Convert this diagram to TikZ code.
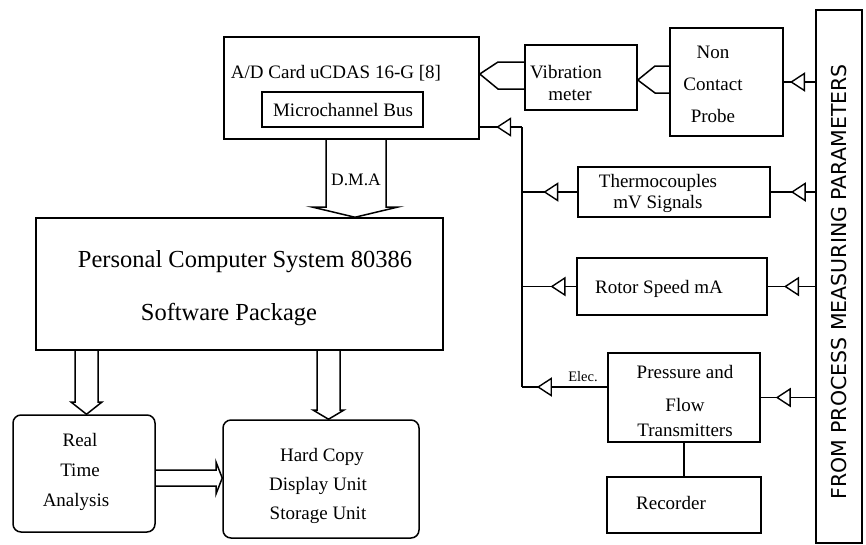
\documentclass[tikz,border=0pt]{standalone}
\usepackage{fontspec}
\setmainfont{Liberation Serif}
\newfontfamily\sansf{DejaVu Sans}
\usetikzlibrary{arrows.meta,decorations.markings,calc}
\tikzset{
  box/.style={draw,line width=1.5pt,rectangle,inner sep=0pt},
  rbox/.style={box,rounded corners=8pt},
  txt/.style={inner sep=0pt,font=\fontsize{19}{21}\selectfont},
  bigtxt/.style={inner sep=0pt,font=\fontsize{24.5}{27}\selectfont},
  conn/.style={line width=1.5pt},
  blockarrow/.style={line width=1.5pt,line join=miter},
  triat/.style={conn,postaction={decorate},decoration={markings,
     mark=at position #1 with {\draw[fill=white,line width=1.4pt,line join=miter] (0,0) -- (-13,-8.5) -- (-13,8.5) -- cycle;}}}
}
\begin{document}
\begin{tikzpicture}[x=1pt,y=-1pt]
\useasboundingbox (0,0) rectangle (866,544);
% boxes
\node[box,minimum width=255pt,minimum height=102pt] (adc) at (351.5,88) {};
\node[box,minimum width=161pt,minimum height=35pt] (mcb) at (342.5,109.5) {};
\node[box,minimum width=112pt,minimum height=65pt] (vib) at (581,77.5) {};
\node[box,minimum width=113pt,minimum height=108pt] (probe) at (726.5,82) {};
\node[box,minimum width=192pt,minimum height=50pt] (thermo) at (674,192) {};
\node[box,minimum width=190pt,minimum height=57pt] (rotor) at (672,286.5) {};
\node[box,minimum width=152pt,minimum height=89pt] (press) at (684,397.5) {};
\node[box,minimum width=154pt,minimum height=56pt] (rec) at (684,505) {};
\node[box,minimum width=46pt,minimum height=533pt] (tall) at (839,276.5) {};
\node[box,minimum width=407pt,minimum height=132pt] (pc) at (239.5,284) {};
\node[rbox,minimum width=142pt,minimum height=117pt] (rt) at (84,473.5) {};
\node[rbox,minimum width=196pt,minimum height=118pt] (hc) at (321,479) {};
% texts
\node[txt] (tadc) at (336,73) {A/D Card uCDAS 16-G [8]};
\node[txt] (tmcb) at (343,110) {Microchannel Bus};
\node[txt] (tvib1) at (566,72) {Vibration};
\node[txt] (tvib2) at (570,95) {meter};
\node[txt] (tpr1) at (713,52) {Non};
\node[txt] (tpr2) at (713,84) {Contact};
\node[txt] (tpr3) at (713,116) {Probe};
\node[txt] (tth1) at (658,183) {Thermocouples};
\node[txt] (tth2) at (658,204) {mV Signals};
\node[txt] (tro) at (659,289) {Rotor Speed mA};
\node[txt] (tpe1) at (685,372) {Pressure and};
\node[txt] (tpe2) at (685,405) {Flow};
\node[txt] (tpe3) at (685,430) {Transmitters};
\node[txt] (trec) at (671,503) {Recorder};
\node[bigtxt] (tpc1) at (245,262) {Personal Computer System 80386};
\node[bigtxt] (tpc2) at (229,315) {Software Package};
\node[txt] (trt1) at (80,440) {Real};
\node[txt] (trt2) at (80,470) {Time};
\node[txt] (trt3) at (76,502) {Analysis};
\node[txt] (thc1) at (322,457) {Hard Copy};
\node[txt] (thc2) at (318,486) {Display Unit};
\node[txt] (thc3) at (318,515) {Storage Unit};
\node[inner sep=0pt,font=\fontsize{17.5}{19}\selectfont] (tdma) at (356,180) {D.M.A};
\node[inner sep=0pt,font=\fontsize{14.5}{16}\selectfont] (telec) at (583,377) {Elec.};
\node[inner sep=0pt,rotate=90,font=\sansf\fontsize{20.5}{24}\selectfont] (ttall) at (839,282) {FROM PROCESS MEASURING PARAMETERS};
% block arrows
\draw[blockarrow] (326,0 |- adc.south) -- (326,207) -- (312,207) -- (355,0 |- pc.north) -- (398,207) -- (386,207) -- (386,0 |- adc.south);
\draw[blockarrow] (75,0 |- pc.south) -- (75,402) -- (71,402) -- (86.5,0 |- rt.north) -- (102,402) -- (98,402) -- (98,0 |- pc.south);
\draw[blockarrow] (317,0 |- pc.south) -- (317,410) -- (313,410) -- (328.5,0 |- hc.north) -- (344,410) -- (340,410) -- (340,0 |- pc.south);
\draw[blockarrow] (rt.east |- 0,470) -- (216,470) -- (216,462) -- (hc.west |- 0,478) -- (216,494) -- (216,486) -- (rt.east |- 0,486);
\draw[blockarrow] (probe.west |- 0,66) -- (655,66) -- (vib.east |- 0,80) -- (655,93) -- (probe.west |- 0,93);
\draw[blockarrow] (vib.west |- 0,62) -- (498,62) -- (adc.east |- 0,74) -- (498,89) -- (vib.west |- 0,89);
% bus
\coordinate (bt) at (522,127);
\coordinate (bb) at (522,387);
\draw[conn] (bt) -- (bb);
\draw[triat=0.58] (bt) -- (bt -| adc.east);
\draw[triat=0.59] (thermo.west) -- (thermo.west -| bt);
\draw[triat=0.45] (rotor.west) -- (rotor.west -| bt);
\draw[triat=0.81] (bb -| press.west) -- (bb);
% from tall box
\draw[triat=0.76] (tall.west |- probe.east) -- (probe.east);
\draw[triat=0.52] (tall.west |- thermo.east) -- (thermo.east);
\draw[triat=0.63] (tall.west |- rotor.east) -- (rotor.east);
\draw[triat=0.70] (tall.west |- press.east) -- (press.east);
% recorder
\draw[conn] (press.south) -- (rec.north);
\end{tikzpicture}
\end{document}
